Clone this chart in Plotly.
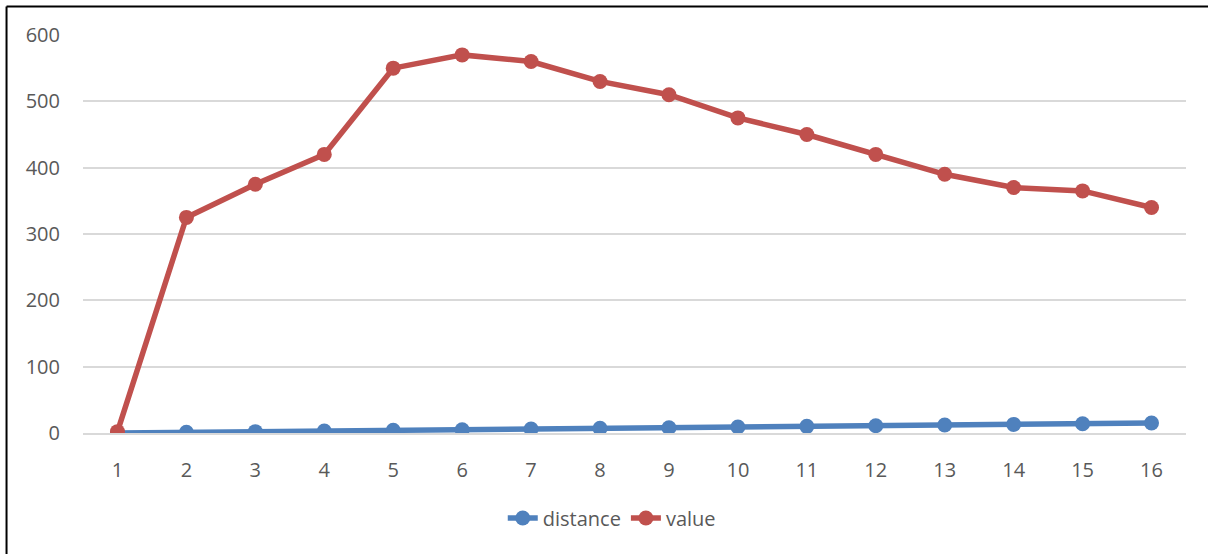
import plotly.graph_objects as go

categories = [str(i) for i in range(1, 17)]
distance = [0, 1, 2, 3, 4, 5, 6, 7, 8, 9, 10, 11, 12, 13, 14, 15]
value = [2, 325, 375, 420, 550, 570, 560, 530, 510, 475, 450, 420, 390, 370, 365, 340]

BLUE = "#4F81BD"
RED = "#C0504D"
FONT = dict(family="Open Sans, Lato, sans-serif", size=20, color="#595959")

fig = go.Figure()
fig.add_trace(go.Scatter(x=categories, y=distance, name="distance", mode="lines+markers",
                         line=dict(color=BLUE, width=5.5), marker=dict(color=BLUE, size=15)))
fig.add_trace(go.Scatter(x=categories, y=value, name="value", mode="lines+markers",
                         line=dict(color=RED, width=5.5), marker=dict(color=RED, size=15)))

L, R, T, B = 83, 21.5, 35, 121
W, H = 1208, 554
pw = W - L - R
ph = H - T - B

def px_x(p):
    return (p - L) / pw

def px_y(p):
    return (H - B - p) / ph

fig.update_layout(
    width=W, height=H,
    margin=dict(l=L, r=R, t=T, b=B),
    paper_bgcolor="white", plot_bgcolor="white",
    font=FONT,
    showlegend=True,
    legend=dict(orientation="h", x=px_x(612), xanchor="center", y=px_y(518), yanchor="middle",
                font=FONT, traceorder="normal"),
    xaxis=dict(type="category", range=[-0.5, 15.5], showgrid=False, showline=True,
               linecolor="#d9d9d9", linewidth=1.5, zeroline=False, ticks="",
               ticklabelstandoff=18, tickfont=FONT),
    yaxis=dict(range=[0, 600], dtick=100, showgrid=True, gridcolor="#d9d9d9", gridwidth=1.5,
               zeroline=False, showline=False, ticks="", ticklabelstandoff=22, tickfont=FONT),
    shapes=[
        dict(type="line", xref="paper", yref="paper", x0=px_x(6.5), x1=px_x(6.5),
             y0=px_y(6.5), y1=px_y(560), line=dict(color="black", width=2)),
        dict(type="line", xref="paper", yref="paper", x0=px_x(6.5), x1=px_x(1215),
             y0=px_y(6.5), y1=px_y(6.5), line=dict(color="black", width=2)),
    ],
)

fig.write_html("out.html", config={"displayModeBar": False},
               post_script="document.body.style.margin='0';")
